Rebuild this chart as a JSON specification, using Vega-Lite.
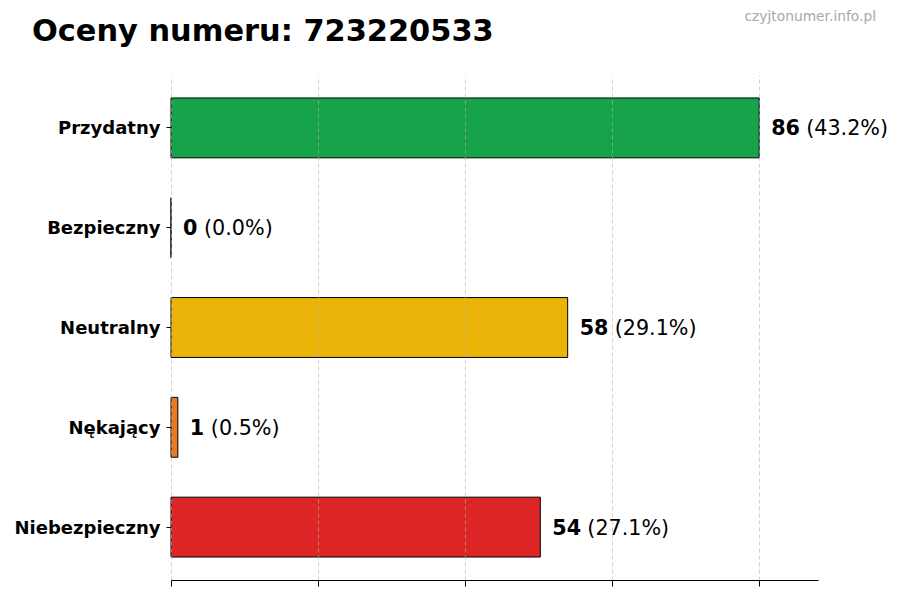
{
  "$schema": "https://vega.github.io/schema/vega-lite/v6.json",
  "width": 647,
  "height": 505,
  "autosize": {"type": "none"},
  "padding": {"left": 171, "top": 75, "right": 82, "bottom": 20},
  "background": "white",
  "config": {
    "view": {"stroke": null},
    "font": "DejaVu Sans"
  },
  "title": {
    "text": "Oceny numeru: 723220533",
    "anchor": "start",
    "frame": "group",
    "font": "DejaVu Sans",
    "fontSize": 30.4,
    "fontWeight": "bold",
    "color": "black",
    "baseline": "alphabetic",
    "offset": -30,
    "dx": -139,
    "dy": 32
  },
  "data": {
    "values": [
      {"ocena": "Przydatny", "liczba": 86, "procent": 43.2},
      {"ocena": "Bezpieczny", "liczba": 0, "procent": 0.0},
      {"ocena": "Neutralny", "liczba": 58, "procent": 29.1},
      {"ocena": "Nękający", "liczba": 1, "procent": 0.5},
      {"ocena": "Niebezpieczny", "liczba": 54, "procent": 27.1}
    ]
  },
  "encoding": {
    "y": {
      "field": "ocena",
      "type": "nominal",
      "sort": null,
      "title": null,
      "scale": {"paddingInner": 0.4, "paddingOuter": 0.23},
      "axis": {
        "domain": false,
        "ticks": true,
        "tickSize": 5,
        "tickColor": "black",
        "labelFont": "DejaVu Sans",
        "labelFontSize": 18,
        "labelFontWeight": "bold",
        "labelColor": "black",
        "labelPadding": 6,
        "labelOffset": 1.5,
        "grid": false
      }
    }
  },
  "layer": [
    {
      "mark": {"type": "bar", "stroke": "black", "strokeWidth": 1},
      "encoding": {
        "x": {
          "field": "liczba",
          "type": "quantitative",
          "title": null,
          "scale": {"domain": [0, 94.6], "nice": false, "zero": true},
          "axis": {
            "values": [0, 21.5, 43, 64.5, 86],
            "labels": false,
            "ticks": true,
            "tickSize": 6,
            "tickColor": "black",
            "domain": true,
            "domainColor": "black",
            "domainWidth": 1,
            "grid": true,
            "gridColor": "#b0b0b0",
            "gridOpacity": 0.6,
            "gridDash": [4, 3],
            "gridWidth": 1,
            "zindex": 1
          }
        },
        "color": {
          "field": "ocena",
          "type": "nominal",
          "legend": null,
          "scale": {
            "domain": ["Przydatny", "Bezpieczny", "Neutralny", "Nękający", "Niebezpieczny"],
            "range": ["#17a34a", "#1e88e5", "#eab308", "#ea7a1f", "#dc2626"]
          }
        }
      }
    },
    {
      "mark": {
        "type": "text",
        "align": "left",
        "baseline": "middle",
        "dx": 12,
        "dy": 1.5,
        "fontSize": 20.7,
        "fontWeight": "bold",
        "color": "black"
      },
      "encoding": {
        "x": {"field": "liczba", "type": "quantitative"},
        "text": {"field": "liczba", "type": "quantitative"}
      }
    },
    {
      "transform": [
        {"filter": "datum.liczba >= 10"},
        {"calculate": "'(' + format(datum.procent, '.1f') + '%)'", "as": "etykieta"}
      ],
      "mark": {
        "type": "text",
        "align": "left",
        "baseline": "middle",
        "dx": 47,
        "dy": 1.5,
        "fontSize": 20.7,
        "color": "black"
      },
      "encoding": {
        "x": {"field": "liczba", "type": "quantitative"},
        "text": {"field": "etykieta", "type": "nominal"}
      }
    },
    {
      "transform": [
        {"filter": "datum.liczba < 10"},
        {"calculate": "'(' + format(datum.procent, '.1f') + '%)'", "as": "etykieta"}
      ],
      "mark": {
        "type": "text",
        "align": "left",
        "baseline": "middle",
        "dx": 33,
        "dy": 1.5,
        "fontSize": 20.7,
        "color": "black"
      },
      "encoding": {
        "x": {"field": "liczba", "type": "quantitative"},
        "text": {"field": "etykieta", "type": "nominal"}
      }
    },
    {
      "data": {"values": [{"napis": "czyjtonumer.info.pl"}]},
      "mark": {
        "type": "text",
        "align": "right",
        "baseline": "alphabetic",
        "dx": 58,
        "dy": -107,
        "fontSize": 13.8,
        "color": "#a8a8a8"
      },
      "encoding": {
        "x": {"datum": 94.6, "type": "quantitative"},
        "y": {"datum": "Przydatny", "type": "nominal"},
        "text": {"field": "napis", "type": "nominal"}
      }
    }
  ]
}
